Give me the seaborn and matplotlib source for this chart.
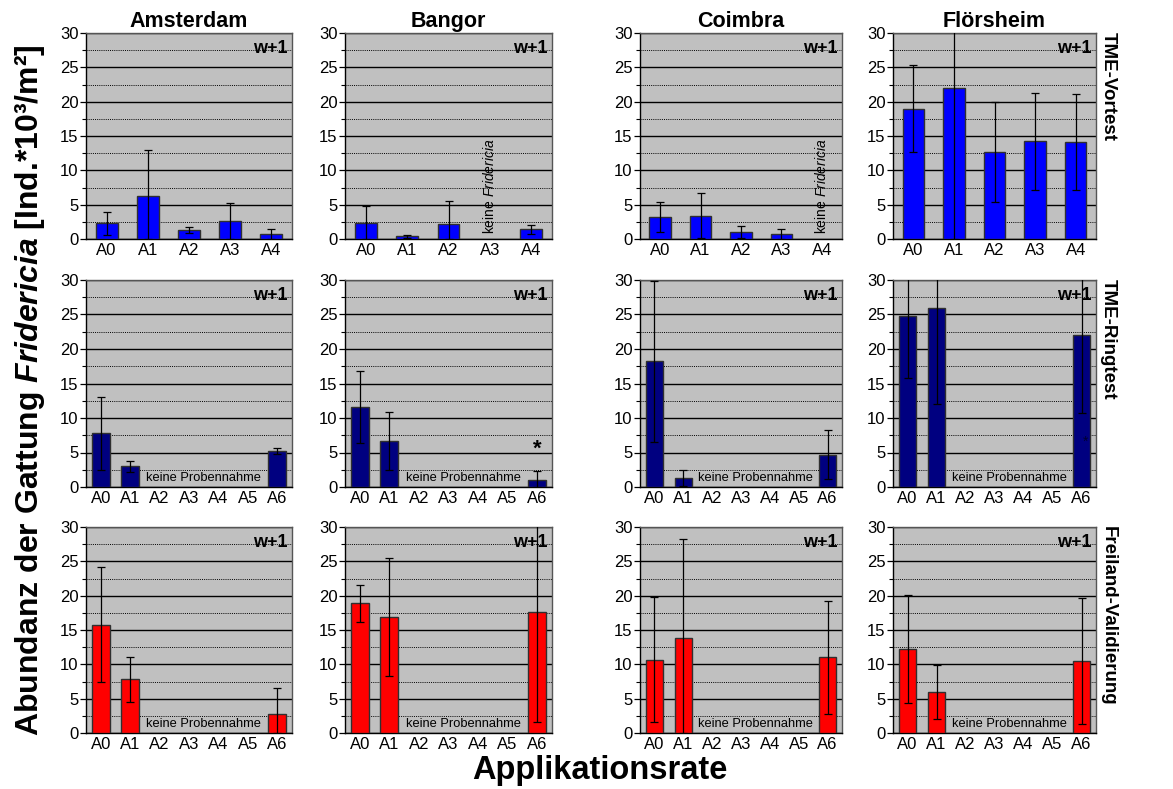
import numpy as np
import pandas as pd
import matplotlib
matplotlib.use("Agg")
import matplotlib.pyplot as plt
from matplotlib.ticker import MultipleLocator, FixedLocator, NullFormatter
import seaborn as sns

sns.set_style("white")
plt.rcParams["font.family"] = ["Liberation Sans", "DejaVu Sans"]
plt.rcParams["text.color"] = "black"
plt.rcParams["axes.labelcolor"] = "black"
plt.rcParams["xtick.color"] = "black"
plt.rcParams["ytick.color"] = "black"
plt.rcParams["mathtext.fontset"] = "custom"
plt.rcParams["mathtext.rm"] = "Liberation Sans"
plt.rcParams["mathtext.it"] = "Liberation Sans:italic:bold"
plt.rcParams["mathtext.sf"] = "Liberation Sans:italic"
plt.rcParams["mathtext.bf"] = "Liberation Sans:bold"

nan = np.nan

sites = ["Amsterdam", "Bangor", "Coimbra", "Flörsheim"]
rates_vortest = ["A0", "A1", "A2", "A3", "A4"]
rates_field = ["A0", "A1", "A2", "A3", "A4", "A5", "A6"]
studies = ["TME-Vortest", "TME-Ringtest", "Freiland-Validierung"]

# mean abundance (Ind.*10^3/m^2) and standard deviation per site
vortest_mean = {
    "Amsterdam": [2.3, 6.2, 1.3, 2.6, 0.7],
    "Bangor":    [2.3, 0.4, 2.2, nan, 1.4],
    "Coimbra":   [3.2, 3.4, 1.0, 0.7, nan],
    "Flörsheim": [19.0, 22.0, 12.7, 14.2, 14.1],
}
vortest_sd = {
    "Amsterdam": [1.7, 6.7, 0.45, 2.7, 0.7],
    "Bangor":    [2.5, 0.2, 3.4, nan, 0.6],
    "Coimbra":   [2.2, 3.3, 0.9, 0.7, nan],
    "Flörsheim": [6.3, 22.0, 7.3, 7.0, 7.0],
}
ringtest_mean = {
    "Amsterdam": [7.8, 3.0, nan, nan, nan, nan, 5.2],
    "Bangor":    [11.6, 6.7, nan, nan, nan, nan, 1.0],
    "Coimbra":   [18.2, 1.3, nan, nan, nan, nan, 4.7],
    "Flörsheim": [24.8, 25.9, nan, nan, nan, nan, 22.1],
}
ringtest_sd = {
    "Amsterdam": [5.3, 0.8, nan, nan, nan, nan, 0.4],
    "Bangor":    [5.2, 4.2, nan, nan, nan, nan, 1.3],
    "Coimbra":   [11.7, 1.1, nan, nan, nan, nan, 3.5],
    "Flörsheim": [9.0, 13.8, nan, nan, nan, nan, 11.4],
}
freiland_mean = {
    "Amsterdam": [15.8, 7.8, nan, nan, nan, nan, 2.7],
    "Bangor":    [18.9, 16.9, nan, nan, nan, nan, 17.6],
    "Coimbra":   [10.7, 13.8, nan, nan, nan, nan, 11.0],
    "Flörsheim": [12.2, 6.0, nan, nan, nan, nan, 10.5],
}
freiland_sd = {
    "Amsterdam": [8.4, 3.3, nan, nan, nan, nan, 3.8],
    "Bangor":    [2.7, 8.6, nan, nan, nan, nan, 16.0],
    "Coimbra":   [9.1, 14.5, nan, nan, nan, nan, 8.2],
    "Flörsheim": [7.9, 3.9, nan, nan, nan, nan, 9.2],
}

# sites without any Fridericia at one rate in the pre-test
no_fridericia = {"Bangor": "A3", "Coimbra": "A4"}
# significance markers in the ring test: (site, rate, y)
ring_stars = [("Bangor", "A6", 5.5), ("Flörsheim", "A6", 6.6)]

row_colors = ["#0000FF", "#000080", "#FF0000"]
row_data = [
    (rates_vortest, vortest_mean, vortest_sd, 0.53),
    (rates_field, ringtest_mean, ringtest_sd, 0.60),
    (rates_field, freiland_mean, freiland_sd, 0.60),
]

W, H = 1173, 789
fig = plt.figure(figsize=(W / 100, H / 100), dpi=100)

col_left = [86, 345, 640, 893]
col_width = [206, 207, 202, 203]
row_top = [33, 280, 527]
row_height = [206, 207, 206]

for r in range(3):
    rates, means, sds, bw = row_data[r]
    for c, site in enumerate(sites):
        ax = fig.add_axes([col_left[c] / W, 1 - (row_top[r] + row_height[r]) / H,
                           col_width[c] / W, row_height[r] / H])
        df = pd.DataFrame({"rate": rates, "mean": means[site], "sd": sds[site]})
        sns.barplot(data=df.dropna(), x="rate", y="mean", order=rates, ax=ax,
                    color=row_colors[r], saturation=1, width=bw,
                    edgecolor="#303030", linewidth=1.0, errorbar=None, zorder=3)
        valid = df.dropna()
        pos = np.array([rates.index(k) for k in valid["rate"]])
        m = valid["mean"].to_numpy()
        s = valid["sd"].to_numpy()
        lower = np.minimum(s, m)
        ax.errorbar(pos, m, yerr=[lower, s], fmt="none", ecolor="black",
                    elinewidth=0.9, capsize=3.2, capthick=0.9, zorder=4)

        ax.set_facecolor("#C0C0C0")
        ax.set_xlim(-0.5, len(rates) - 0.5)
        ax.set_ylim(0, 30)
        ax.set_axisbelow(True)
        ax.yaxis.set_major_locator(MultipleLocator(5))
        ax.yaxis.set_minor_locator(MultipleLocator(2.5))
        ax.grid(True, which="major", axis="y", color="black", lw=1.0)
        ax.grid(True, which="minor", axis="y", color="black", lw=0.7, ls=(0, (1, 1.2)))
        ax.grid(False, axis="x")
        ax.xaxis.set_minor_locator(FixedLocator(np.arange(0.5, len(rates) - 0.5, 1)))
        ax.xaxis.set_minor_formatter(NullFormatter())
        ax.tick_params(axis="x", which="major", length=0, labelsize=12, pad=3,
                       labelcolor="black")
        ax.tick_params(axis="x", which="minor", length=5, width=0.9,
                       direction="inout", color="black")
        ax.tick_params(axis="y", which="major", length=4, width=0.9,
                       direction="out", labelsize=12, pad=1.5, color="black",
                       labelcolor="black", left=True)
        ax.tick_params(axis="y", which="minor", length=3, width=0.8,
                       direction="out", color="black", left=True)
        ax.set_xlabel("")
        ax.set_ylabel("")
        for side in ["left", "bottom"]:
            ax.spines[side].set_color("black")
            ax.spines[side].set_linewidth(1.0)
        for side in ["top", "right"]:
            ax.spines[side].set_color("#555555")
            ax.spines[side].set_linewidth(1.0)
        for side in ax.spines.values():
            side.set_visible(True)

        ax.text(0.98, 0.925, "w+1", transform=ax.transAxes, ha="right",
                va="center", fontsize=13, fontweight="bold", color="black", zorder=6)

        if r == 0:
            ax.set_title(site, fontsize=15.5, fontweight="bold", pad=4, color="black")
            if site in no_fridericia:
                ax.text(rates.index(no_fridericia[site]), 0.8,
                        r"keine $\mathsf{Fridericia}$", rotation=90,
                        ha="center", va="bottom", fontsize=10, color="black", zorder=6)
        else:
            ax.text(3.5, 1.3, "keine Probennahme", ha="center", va="center",
                    fontsize=9.3, color="black", zorder=6)
        if r == 1:
            for st_site, st_rate, st_y in ring_stars:
                if st_site == site:
                    if site == "Bangor":
                        ax.text(rates.index(st_rate), st_y, "*", ha="center",
                                va="center", fontsize=16, fontweight="bold",
                                color="black", zorder=6)
                    else:
                        ax.text(rates.index(st_rate) + 0.15, st_y, "*", ha="center",
                                va="center", fontsize=10, color="#000030", zorder=6)

    fig.text(1108 / W, 1 - (row_top[r] - 1) / H, studies[r],
             rotation=-90, ha="center", va="top", fontsize=13.5, fontweight="bold",
             color="black")

fig.text(30 / W, 1 - 390 / H,
         r"Abundanz der Gattung $\mathit{Fridericia}$ [Ind.*10³/m²]",
         rotation=90, ha="center", va="center", fontsize=23, fontweight="bold",
         color="black")
fig.text(600 / W, 1 - 770 / H, "Applikationsrate", ha="center", va="center",
         fontsize=23.5, fontweight="bold", color="black")

fig.savefig("out.png", dpi=100, facecolor="white")
